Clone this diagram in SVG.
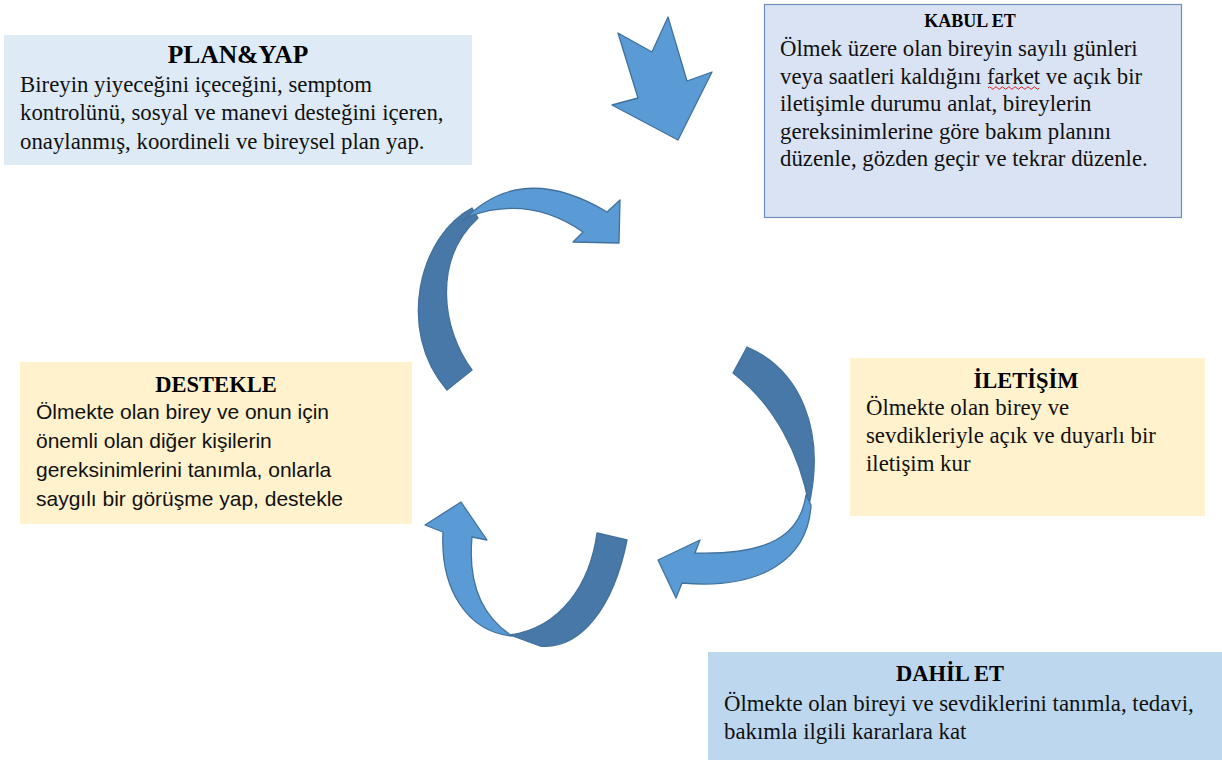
<svg xmlns="http://www.w3.org/2000/svg" width="1222" height="764" viewBox="0 0 1222 764">
<style>
.t{font-family:"Liberation Serif","Times New Roman",serif;font-weight:bold;fill:#000;text-anchor:middle}
.b{font-family:"Liberation Serif","Times New Roman",serif;font-size:22.8px;fill:#111}
.s{font-family:"Liberation Sans",Arial,sans-serif;font-size:21px;fill:#111}
.lt{fill:#5b9bd5;stroke:#41719c;stroke-width:1.3;stroke-linejoin:round}
.dk{fill:#4878a8;stroke:#41719c;stroke-width:1.3;stroke-linejoin:round}
</style>
<rect width="1222" height="764" fill="#fff"/>
<g id="plan-yap">
<rect x="4" y="35" width="468" height="130" fill="#deebf7"/>
<text class="t" x="238" y="63" font-size="25.5">PLAN&amp;YAP</text>
<text class="b" x="20" y="92">Bireyin yiyeceğini içeceğini, semptom</text>
<text class="b" x="20" y="120">kontrolünü, sosyal ve manevi desteğini içeren,</text>
<text class="b" x="20" y="149">onaylanmış, koordineli ve bireysel plan yap.</text>
</g>
<g id="kabul-et">
<rect x="764.5" y="4.5" width="417" height="213" fill="#dae3f3" stroke="#6f8fbd" stroke-width="1.2"/>
<text class="t" x="970" y="27" font-size="18">KABUL ET</text>
<text class="b" x="780" y="56">Ölmek üzere olan bireyin sayılı günleri</text>
<text class="b" x="780" y="84">veya saatleri kaldığını farket ve açık bir</text>
<text class="b" x="780" y="111">iletişimle durumu anlat, bireylerin</text>
<text class="b" x="780" y="139">gereksinimlerine göre bakım planını</text>
<text class="b" x="780" y="166">düzenle, gözden geçir ve tekrar düzenle.</text>
<path d="M988,88 q1.6,-2.5 3.2,0 t3.2,0 t3.2,0 t3.2,0 t3.2,0 t3.2,0 t3.2,0 t3.2,0 t3.2,0 t3.2,0 t3.2,0 t3.2,0 t3.2,0 t3.2,0 t3.2,0 t3.2,0" fill="none" stroke="#e02020" stroke-width="1"/>
</g>
<g id="destekle">
<rect x="20" y="362" width="392" height="162" fill="#fff2cc"/>
<text class="t" x="216" y="392" font-size="22.5">DESTEKLE</text>
<text class="s" x="36" y="419">Ölmekte olan birey ve onun için</text>
<text class="s" x="36" y="448">önemli olan diğer kişilerin</text>
<text class="s" x="36" y="477">gereksinimlerini tanımla, onlarla</text>
<text class="s" x="36" y="506">saygılı bir görüşme yap, destekle</text>
</g>
<g id="iletisim">
<rect x="850" y="358" width="355" height="158" fill="#fff2cc"/>
<text class="t" x="1026" y="388" font-size="22.5">İLETİŞİM</text>
<text class="b" x="866" y="415">Ölmekte olan birey ve</text>
<text class="b" x="866" y="443">sevdikleriyle açık ve duyarlı bir</text>
<text class="b" x="866" y="471">iletişim kur</text>
</g>
<g id="dahil-et">
<rect x="708" y="652" width="514" height="108" fill="#bdd7ee"/>
<text class="t" x="950" y="681" font-size="22.5">DAHİL ET</text>
<text class="b" x="724" y="711">Ölmekte olan bireyi ve sevdiklerini tanımla, tedavi,</text>
<text class="b" x="724" y="739">bakımla ilgili kararlara kat</text>
</g>
<g id="connectors">
<polygon class="lt" points="678,140 612,105 638,98 618,33 652,52 668,17 687,81 712,72"/>
<path class="dk" d="M472,208 C420,235 395,330 447,390 L472,370 C442,330 432,260 478,218 Z"/>
<path class="lt" d="M462,222 Q520,160 607,212 L620,200 L619,243 L573,242 L583,232 Q530,195 470,216 Z"/>
<path class="dk" d="M747,347 C800,370 826,430 809,505 C800,455 775,405 733,373 Z"/>
<path class="lt" d="M806,495 C800,535 770,555 695,553 L700,540 L658,560 L676,598 L682,583 C760,590 808,560 811,505 Z"/>
<path class="dk" d="M627,540 C614,605 582,650 540,646 L510,635 C560,628 590,585 597,533 Z"/>
<path class="lt" d="M443,532 L425,525 L461,502 L487,540 L472,537 C468,580 480,615 512,636 C468,632 440,590 443,532 Z"/>
</g>
</svg>
